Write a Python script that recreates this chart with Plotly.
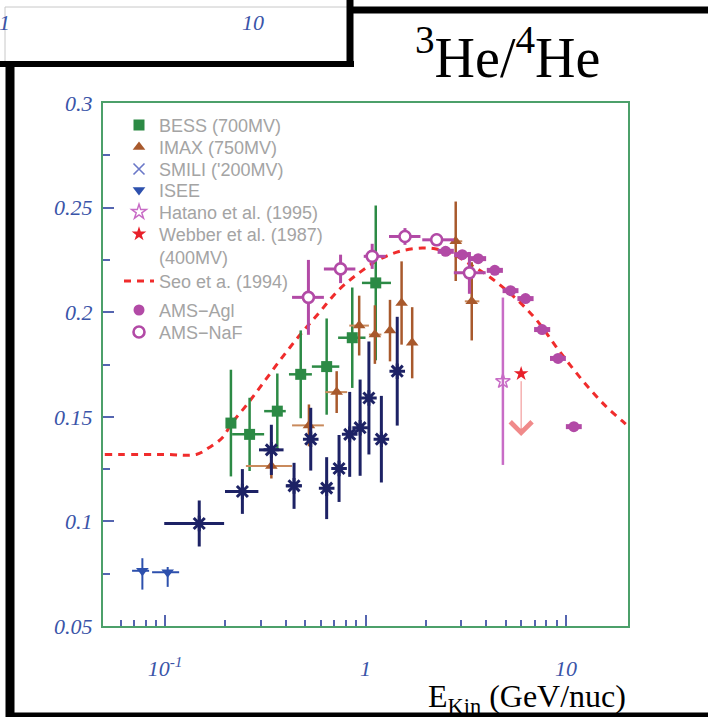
import math
import plotly.graph_objects as go

# ---------------- data: 3He/4He ratio vs kinetic energy per nucleon ----------------
# BESS (700MV)
bess_e = [0.213, 0.264, 0.363, 0.475, 0.64, 0.859, 1.125]
bess_r = [0.147, 0.1416, 0.1527, 0.1703, 0.174, 0.1878, 0.214]
bess_err = [0.0255, 0.0175, 0.018, 0.021, 0.023, 0.024, 0.037]
bess_elo = [0.206, 0.216, 0.312, 0.415, 0.54, 0.73, 0.96]
bess_ehi = [0.221, 0.312, 0.40, 0.54, 0.74, 1.0, 1.34]

# IMAX (750MV)
imax_e = [0.339, 0.522, 0.718, 0.93, 1.114, 1.325, 1.514, 1.71, 2.82, 3.39]
imax_r = [0.1265, 0.1459, 0.1618, 0.1936, 0.1893, 0.1912, 0.2044, 0.1854, 0.2339, 0.2052]
imax_err = [0.006, 0.01, 0.01, 0.0143, 0.014, 0.0147, 0.0199, 0.017, 0.019, 0.0187]
imax_elo = [0.253, 0.43, 0.63, 0.83, 1.04, 1.325, 1.514, 1.71, 2.68, 3.13]
imax_ehi = [0.43, 0.62, 0.81, 1.04, 1.2, 1.325, 1.514, 1.71, 3.04, 3.7]

# SMILI
smili_e = [0.148, 0.243, 0.339, 0.44, 0.533, 0.64, 0.738, 0.834, 0.94, 1.04, 1.2, 1.44]
smili_r = [0.099, 0.1143, 0.1342, 0.117, 0.1393, 0.1159, 0.1253, 0.1416, 0.1448, 0.159, 0.1393, 0.1718]
smili_err = [0.011, 0.0107, 0.012, 0.011, 0.015, 0.0148, 0.016, 0.0203, 0.023, 0.027, 0.0207, 0.026]
smili_elo = [0.099, 0.199, 0.294, 0.40, 0.533, 0.64, 0.738, 0.834, 0.94, 1.04, 1.2, 1.44]
smili_ehi = [0.197, 0.292, 0.39, 0.48, 0.533, 0.64, 0.738, 0.834, 0.94, 1.04, 1.2, 1.44]

# ISEE
isee_e = [0.077, 0.103]
isee_r = [0.0764, 0.0757]
isee_up = [0.006, 0.0025]
isee_dn = [0.009, 0.007]
isee_elo = [0.0684, 0.0861]
isee_ehi = [0.0832, 0.1175]

# Hatano et al. (1995)
hatano_e = [4.85]
hatano_r = [0.167]
hatano_err = [0.04]

# Webber et al. (1987): upper limit
webber_e = [5.98]
webber_r = [0.1706]
webber_lim = [0.1408]

# Seo et al. (1994) model curve
seo_e = [0.05, 0.1, 0.143, 0.166, 0.193, 0.216, 0.253, 0.305, 0.377, 0.466, 0.586,
         0.738, 0.929, 1.167, 1.47, 1.92, 2.33, 2.82, 3.41, 4.13, 5.01, 6.06, 7.33,
         8.89, 10.75, 13.0, 15.8, 19.1, 20.4]
seo_r = [0.132, 0.132, 0.132, 0.1353, 0.14, 0.1472, 0.1552, 0.1655, 0.1774, 0.1886,
         0.1997, 0.2108, 0.2188, 0.2251, 0.229, 0.2307, 0.2299, 0.227, 0.2222, 0.2171,
         0.2108, 0.2036, 0.1949, 0.1838, 0.1735, 0.1639, 0.1551, 0.148, 0.1455]

# AMS-Agl
agl_e = [2.51, 3.04, 3.65, 4.42, 5.30, 6.29, 7.61, 9.14, 10.96]
agl_r = [0.2291, 0.2275, 0.2256, 0.22, 0.2103, 0.2065, 0.1917, 0.1779, 0.1453]
agl_elo = [2.29, 2.77, 3.33, 4.03, 4.83, 5.73, 6.94, 8.33, 10.0]
agl_ehi = [2.76, 3.34, 4.0, 4.85, 5.8, 6.9, 8.35, 10.0, 12.0]

# AMS-NaF
naf_e = [0.519, 0.751, 1.08, 1.574, 2.265, 3.3]
naf_r = [0.2071, 0.2207, 0.2267, 0.2362, 0.2346, 0.2188]
naf_err = [0.0179, 0.0068, 0.006, 0.004, 0.003, 0.01]
naf_elo = [0.43, 0.62, 0.98, 1.31, 1.92, 2.76]
naf_ehi = [0.62, 0.89, 1.26, 1.88, 2.76, 3.98]

# axis ticks
x_ticks = [0.1, 1, 10]
x_ticktext = ["10<sup>-1</sup>", "1", "10"]
x_minor = [0.06, 0.07, 0.08, 0.09, 0.2, 0.3, 0.4, 0.5, 0.6, 0.7, 0.8, 0.9,
           2, 3, 4, 5, 6, 7, 8, 9]
y_ticks = [0.05, 0.1, 0.15, 0.2, 0.25, 0.3]
y_ticktext = ["0.05", "0.1", "0.15", "0.2", "0.25", "0.3"]

# ---------------- styling ----------------
W, H = 708, 717
ML, MR, MT, MB = 103, 80, 103, 91
PW, PH = W - ML - MR, H - MT - MB

GREEN = "#2c8a45"
BROWN = "#a8592c"
NAVY = "#1d2265"
BLUE = "#2d50ad"
PINK = "#c86cc6"
RED = "#e8202a"
PURPLE = "#b24aa6"
TICKBLUE = "#3a54a8"
LEGTXT = "#a4a4a4"


def px_x(p):
    return (p - ML) / PW


def px_y(p):
    return (H - MB - p) / PH


def sym_err(vals, color, thick):
    return dict(type="data", array=vals, color=color, thickness=thick, width=0)


def bin_err(e, lo, hi, color, thick):
    return dict(type="data", symmetric=False,
                array=[h - v for v, h in zip(e, hi)],
                arrayminus=[v - l for v, l in zip(e, lo)],
                color=color, thickness=thick, width=0)


fig = go.Figure()

# model curve first so data sit on top of it
fig.add_trace(go.Scatter(
    x=seo_e, y=seo_r, mode="lines", name="Seo et a. (1994)",
    line=dict(color="#f02c2c", width=3, dash="7px,6px", shape="spline"),
    legend="legend7"))

fig.add_trace(go.Scatter(
    x=isee_e, y=isee_r, mode="markers", name="ISEE",
    marker=dict(symbol="triangle-down", size=11, color=BLUE),
    error_y=dict(type="data", symmetric=False, array=isee_up, arrayminus=isee_dn,
                 color=BLUE, thickness=2, width=0),
    error_x=bin_err(isee_e, isee_elo, isee_ehi, BLUE, 2),
    legend="legend4"))

fig.add_trace(go.Scatter(
    x=bess_e, y=bess_r, mode="markers", name="BESS (700MV)",
    marker=dict(symbol="square", size=11, color=GREEN),
    error_y=sym_err(bess_err, GREEN, 2.5),
    error_x=bin_err(bess_e, bess_elo, bess_ehi, GREEN, 2.5),
    legend="legend"))

fig.add_trace(go.Scatter(
    x=imax_e, y=imax_r, mode="markers", name="IMAX (750MV)",
    marker=dict(symbol="triangle-up", size=11, color=BROWN),
    error_y=sym_err(imax_err, BROWN, 2.5),
    error_x=bin_err(imax_e, imax_elo, imax_ehi, "#c98a5c", 2),
    legend="legend2"))

fig.add_trace(go.Scatter(
    x=smili_e, y=smili_r, mode="markers", name="SMILI data", showlegend=False,
    marker=dict(symbol="asterisk-open", size=13, color=NAVY,
                line=dict(color=NAVY, width=3)),
    error_y=sym_err(smili_err, NAVY, 3),
    error_x=bin_err(smili_e, smili_elo, smili_ehi, NAVY, 3)))

# legend key for SMILI
fig.add_trace(go.Scatter(
    x=[None], y=[None], mode="markers", name="SMILI ('200MV)",
    marker=dict(symbol="x-thin-open", size=11, color="#6a78c8",
                line=dict(color="#6a78c8", width=1.6)),
    legend="legend3"))

fig.add_trace(go.Scatter(
    x=hatano_e, y=hatano_r, mode="markers", name="Hatano et al. (1995)",
    marker=dict(symbol="star-open", size=11, color=PINK,
                line=dict(color=PINK, width=1.5)),
    error_y=sym_err(hatano_err, PINK, 2.5),
    legend="legend5"))

fig.add_trace(go.Scatter(
    x=webber_e, y=webber_r, mode="markers", name="Webber et al. (1987)<br>(400MV)",
    marker=dict(symbol="star", size=11, color=RED),
    legend="legend6"))

fig.add_trace(go.Scatter(
    x=agl_e, y=agl_r, mode="markers", name="AMS\u2212Agl",
    marker=dict(symbol="circle", size=11, color=PURPLE),
    error_x=bin_err(agl_e, agl_elo, agl_ehi, PURPLE, 5),
    legend="legend8"))

fig.add_trace(go.Scatter(
    x=naf_e, y=naf_r, mode="markers", name="AMS\u2212NaF",
    marker=dict(symbol="circle", size=11, color="white",
                line=dict(color=PURPLE, width=2.6)),
    error_y=sym_err(naf_err, PURPLE, 3),
    error_x=bin_err(naf_e, naf_elo, naf_ehi, PURPLE, 3),
    legend="legend9"))

# Webber upper-limit arrow
for e, r, lim in zip(webber_e, webber_r, webber_lim):
    fig.add_annotation(x=math.log10(e), y=lim, ax=math.log10(e), ay=r,
                       xref="x", yref="y", axref="x", ayref="y", text="",
                       showarrow=True, arrowhead=4, arrowsize=4.2, arrowwidth=1,
                       arrowcolor="#f08a8a", standoff=0, startstandoff=6)

# ---------------- legends, one per entry ----------------
leg_font = dict(family="Liberation Sans", size=18, color=LEGTXT)
leg_centers = {"legend": 125, "legend2": 147, "legend3": 169, "legend4": 190,
               "legend5": 212, "legend6": 234, "legend7": 281, "legend8": 310,
               "legend9": 332}
FS = leg_font["size"]
top_off = 5 + (1.3 * FS + 3) / 2
for key, c in leg_centers.items():
    fig.update_layout({key: dict(
        x=px_x(119), xanchor="left", y=px_y(c - top_off), yanchor="top",
        bgcolor="rgba(0,0,0,0)", borderwidth=0, font=leg_font,
        valign="top", itemclick=False, itemdoubleclick=False)})

# ---------------- axes ----------------
tick_font = dict(family="Liberation Serif", size=22, color=TICKBLUE, style="italic")
fig.update_xaxes(
    type="log", range=[-1.31, 1.31], tickvals=x_ticks, ticktext=x_ticktext,
    ticks="inside", ticklen=11, tickwidth=1.5, tickcolor="#5565b0",
    minor=dict(tickmode="array", tickvals=x_minor, ticks="inside", ticklen=6,
               tickwidth=1.5, tickcolor="#5565b0"),
    showline=True, linecolor="#4ca06a", linewidth=2, mirror=True,
    showgrid=False, zeroline=False, tickfont=tick_font, ticklabelstandoff=22)
fig.update_yaxes(
    range=[0.05, 0.3], tickvals=y_ticks, ticktext=y_ticktext,
    ticks="inside", ticklen=11, tickwidth=1.5, tickcolor="#5565b0",
    minor=dict(dtick=0.025, tick0=0.05, ticks="inside", ticklen=7,
               tickwidth=1.5, tickcolor="#5565b0"),
    showline=True, linecolor="#4ca06a", linewidth=2, mirror=True,
    showgrid=False, zeroline=False, tickfont=tick_font, ticklabelstandoff=4)

# ---------------- page frame and headings ----------------
shapes = [
    # thin border of neighbouring panel
    dict(x0=px_x(5), x1=px_x(347), y0=px_y(7), y1=px_y(7), color="#c8c8c8", w=1),
    dict(x0=px_x(5), x1=px_x(5), y0=px_y(7), y1=px_y(62), color="#c8c8c8", w=1),
    # thick black frame
    dict(x0=px_x(10), x1=px_x(10), y0=px_y(61), y1=px_y(717), color="black", w=9),
    dict(x0=px_x(0), x1=px_x(354), y0=px_y(64), y1=px_y(64), color="black", w=6),
    dict(x0=px_x(350), x1=px_x(350), y0=px_y(0), y1=px_y(67), color="black", w=7),
    dict(x0=px_x(347), x1=px_x(708), y0=px_y(10), y1=px_y(10), color="black", w=7),
    dict(x0=px_x(6), x1=px_x(708), y0=px_y(715), y1=px_y(715), color="black", w=5),
]
for s in shapes:
    fig.add_shape(type="line", xref="paper", yref="paper",
                  x0=s["x0"], x1=s["x1"], y0=s["y0"], y1=s["y1"],
                  line=dict(color=s["color"], width=s["w"]), layer="above")

# tick labels of the neighbouring panel
for label, xp in (("1", 4), ("10", 253)):
    fig.add_annotation(x=px_x(xp), y=px_y(22), xref="paper", yref="paper",
                       text=label, showarrow=False, xanchor="center", yanchor="middle",
                       font=tick_font)

fig.add_annotation(x=px_x(507), y=px_y(54), xref="paper", yref="paper",
                   text="<sup>3</sup>He/<sup>4</sup>He", showarrow=False,
                   xanchor="center", yanchor="middle",
                   font=dict(family="Liberation Serif", size=56, color="black"))

fig.add_annotation(x=px_x(628), y=px_y(698), xref="paper", yref="paper",
                   text="E<sub>Kin</sub> (GeV/nuc)", showarrow=False,
                   xanchor="right", yanchor="middle",
                   font=dict(family="Liberation Serif", size=32, color="black"))

fig.update_layout(
    width=W, height=H, margin=dict(l=ML, r=MR, t=MT, b=MB, autoexpand=False),
    paper_bgcolor="white", plot_bgcolor="white", showlegend=True)

fig.write_html("out.html")
